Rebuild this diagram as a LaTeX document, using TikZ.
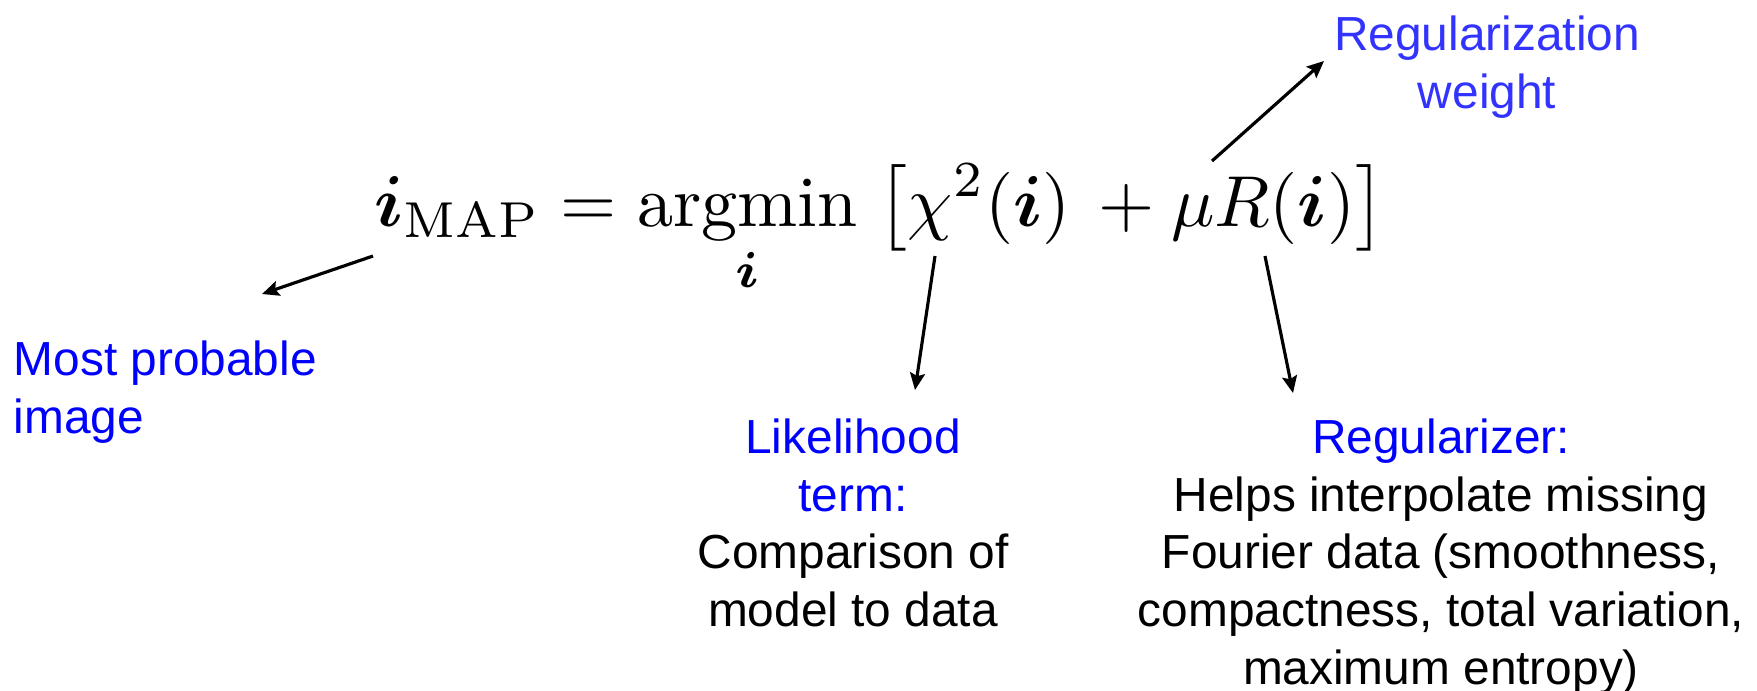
\documentclass[tikz,border=0pt]{standalone}
\usepackage{amsmath}
\usepackage{bm}
\usepackage{graphicx}
\usepackage{xcolor}
\usepackage{fontspec}
\newfontfamily\arialfont{Liberation Sans}
\usetikzlibrary{arrows.meta}

\definecolor{termblue}{RGB}{0,0,255}
\definecolor{weightblue}{RGB}{51,51,255}

\begin{document}
\begin{tikzpicture}[
  x=0.01cm, y=-0.01cm,
  >={Stealth[length=1.7mm, width=1.5mm, inset=0.3mm]},
  note/.style={inner sep=0pt, align=center,
               font=\arialfont\fontsize{13.6}{16.4}\selectfont},
  hl/.style={text=termblue},
  ptr/.style={->, line width=0.9pt}
]
\useasboundingbox (0,0) rectangle (1757,690);

%% ---- equation ----
\node[anchor=base west, inner sep=0pt] (eq) at (374,226) {%
  \resizebox{10.1cm}{!}{$\displaystyle
  \bm{i}_{\mathrm{MAP}} = \operatorname*{argmin}_{\bm{i}}\mkern5mu
  \bigl[\chi^2(\bm{i}) \mkern3mu + \mu R(\bm{i})\bigr]$}};

%% ---- labels ----
\node[note, hl, anchor=north west, align=left] (probable) at (13,340) {
  Most probable\\image
};
\node[note, anchor=north, text=weightblue] (weight) at (1487,15) {
  Regularization\\weight
};
\node[note, anchor=north] (likelihood) at (853,418) {
  \textcolor{termblue}{Likelihood}\\
  \textcolor{termblue}{term:}\\
  Comparison of\\
  model to data
};
\node[note, anchor=north] (regularizer) at (1441,418) {
  \textcolor{termblue}{Regularizer:}\\
  Helps interpolate missing\\
  Fourier data (smoothness,\\
  compactness, total variation,\\
  maximum entropy)
};

%% ---- arrow ends ----
\coordinate (map-tail) at (373,256);
\coordinate (map-tip) at (262,294);
\coordinate (chi-tail) at (935,256);
\coordinate (chi-tip) at (915,390);
\coordinate (reg-tail) at (1265,256);
\coordinate (reg-tip) at (1293,393);
\coordinate (mu-tail) at (1212,161);
\coordinate (mu-tip) at (1324,61);

%% ---- arrows ----
\draw[ptr] (map-tail) -- (map-tip);
\draw[ptr] (chi-tail) -- (chi-tip);
\draw[ptr] (reg-tail) -- (reg-tip);
\draw[ptr] (mu-tail) -- (mu-tip);

\end{tikzpicture}
\end{document}
